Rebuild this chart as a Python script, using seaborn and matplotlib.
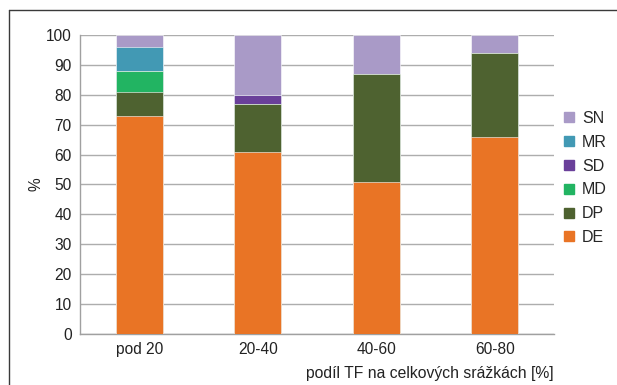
import matplotlib
matplotlib.use("Agg")
import matplotlib.pyplot as plt
from matplotlib.lines import Line2D
import seaborn as sns
import numpy as np
import pandas as pd

# Stacked shares (%) per throughfall class, listed bottom to top
categories = ["pod 20", "20-40", "40-60", "60-80"]
series = ["DE", "DP", "MD", "SD", "MR", "SN"]
DE = [73, 61, 51, 66]
DP = [8, 16, 36, 28]
MD = [7, 0, 0, 0]
SD = [0, 3, 0, 0]
MR = [8, 0, 0, 0]
SN = [4, 20, 13, 6]
y_ticks = [0, 10, 20, 30, 40, 50, 60, 70, 80, 90, 100]
x_label = "podíl TF na celkových srážkách [%]"
y_label = "%"

colors = {
    "DE": "#E97425",
    "DP": "#4E6230",
    "MD": "#22B462",
    "SD": "#6A409A",
    "MR": "#4299B4",
    "SN": "#A99AC7",
}

sns.set_theme(style="white")
plt.rcParams["font.family"] = ["Liberation Sans", "DejaVu Sans"]

values = pd.DataFrame({"DE": DE, "DP": DP, "MD": MD, "SD": SD, "MR": MR, "SN": SN},
                      index=categories)
cum = values.cumsum(axis=1)

fig = plt.figure(figsize=(6.17, 3.85), dpi=100)
ax = fig.add_axes([80 / 617, 1 - 334 / 385, (554 - 80) / 617, (334 - 35) / 385])

# draw cumulative totals from the top segment down so each layer shows its slice
for name in reversed(series):
    df = pd.DataFrame({"cat": categories, "val": cum[name].values})
    sns.barplot(data=df, x="cat", y="val", color=colors[name], width=0.4,
                saturation=1, edgecolor="white", linewidth=0.4, ax=ax, zorder=3)

ax.set_ylim(0, 100)
ax.set_xlim(-0.5, 3.5)
ax.set_yticks(y_ticks)
ax.yaxis.grid(True, color="#ADADAD", linewidth=1.0)
ax.set_axisbelow(True)
ax.tick_params(axis="y", which="major", length=4, width=1, color="#A0A0A0",
               labelsize=11.2, labelcolor="#222222", pad=2)
ax.set_xticks(range(len(categories)))
ax.set_xticklabels(categories)
ax.tick_params(axis="x", which="major", length=0, labelsize=11.2,
               labelcolor="#222222", pad=6)
ax.set_xticks(np.arange(-0.5, len(categories)), minor=True)
ax.tick_params(axis="x", which="minor", length=4, width=1, color="#A0A0A0",
               direction="out")

for side in ["top", "right"]:
    ax.spines[side].set_visible(False)
for side in ["left", "bottom"]:
    ax.spines[side].set_visible(True)
    ax.spines[side].set_color("#A0A0A0")
    ax.spines[side].set_linewidth(1.0)

ax.set_xlabel(x_label, loc="right", fontsize=11.3, color="#222222", labelpad=6)
ax.set_ylabel(y_label, fontsize=11.2, color="#222222", labelpad=2)

handles = [Line2D([], [], marker="s", linestyle="none", markersize=6.5,
                  markerfacecolor=colors[n], markeredgecolor=colors[n], label=n)
           for n in reversed(series)]
ax.legend(handles=handles, loc="center left", bbox_to_anchor=(1.005, 0.522),
          frameon=False, fontsize=11.5, handlelength=0.8, handletextpad=0.4,
          labelspacing=0.55, borderaxespad=0)

# outer frame lines along the top and left edges
fig.add_artist(Line2D([9 / 617, 1], [1 - 10 / 385, 1 - 10 / 385],
                      transform=fig.transFigure, color="#3A3A3A", linewidth=1.0))
fig.add_artist(Line2D([9 / 617, 9 / 617], [0, 1 - 10 / 385],
                      transform=fig.transFigure, color="#3A3A3A", linewidth=1.0))

fig.savefig("out.png", dpi=100)
